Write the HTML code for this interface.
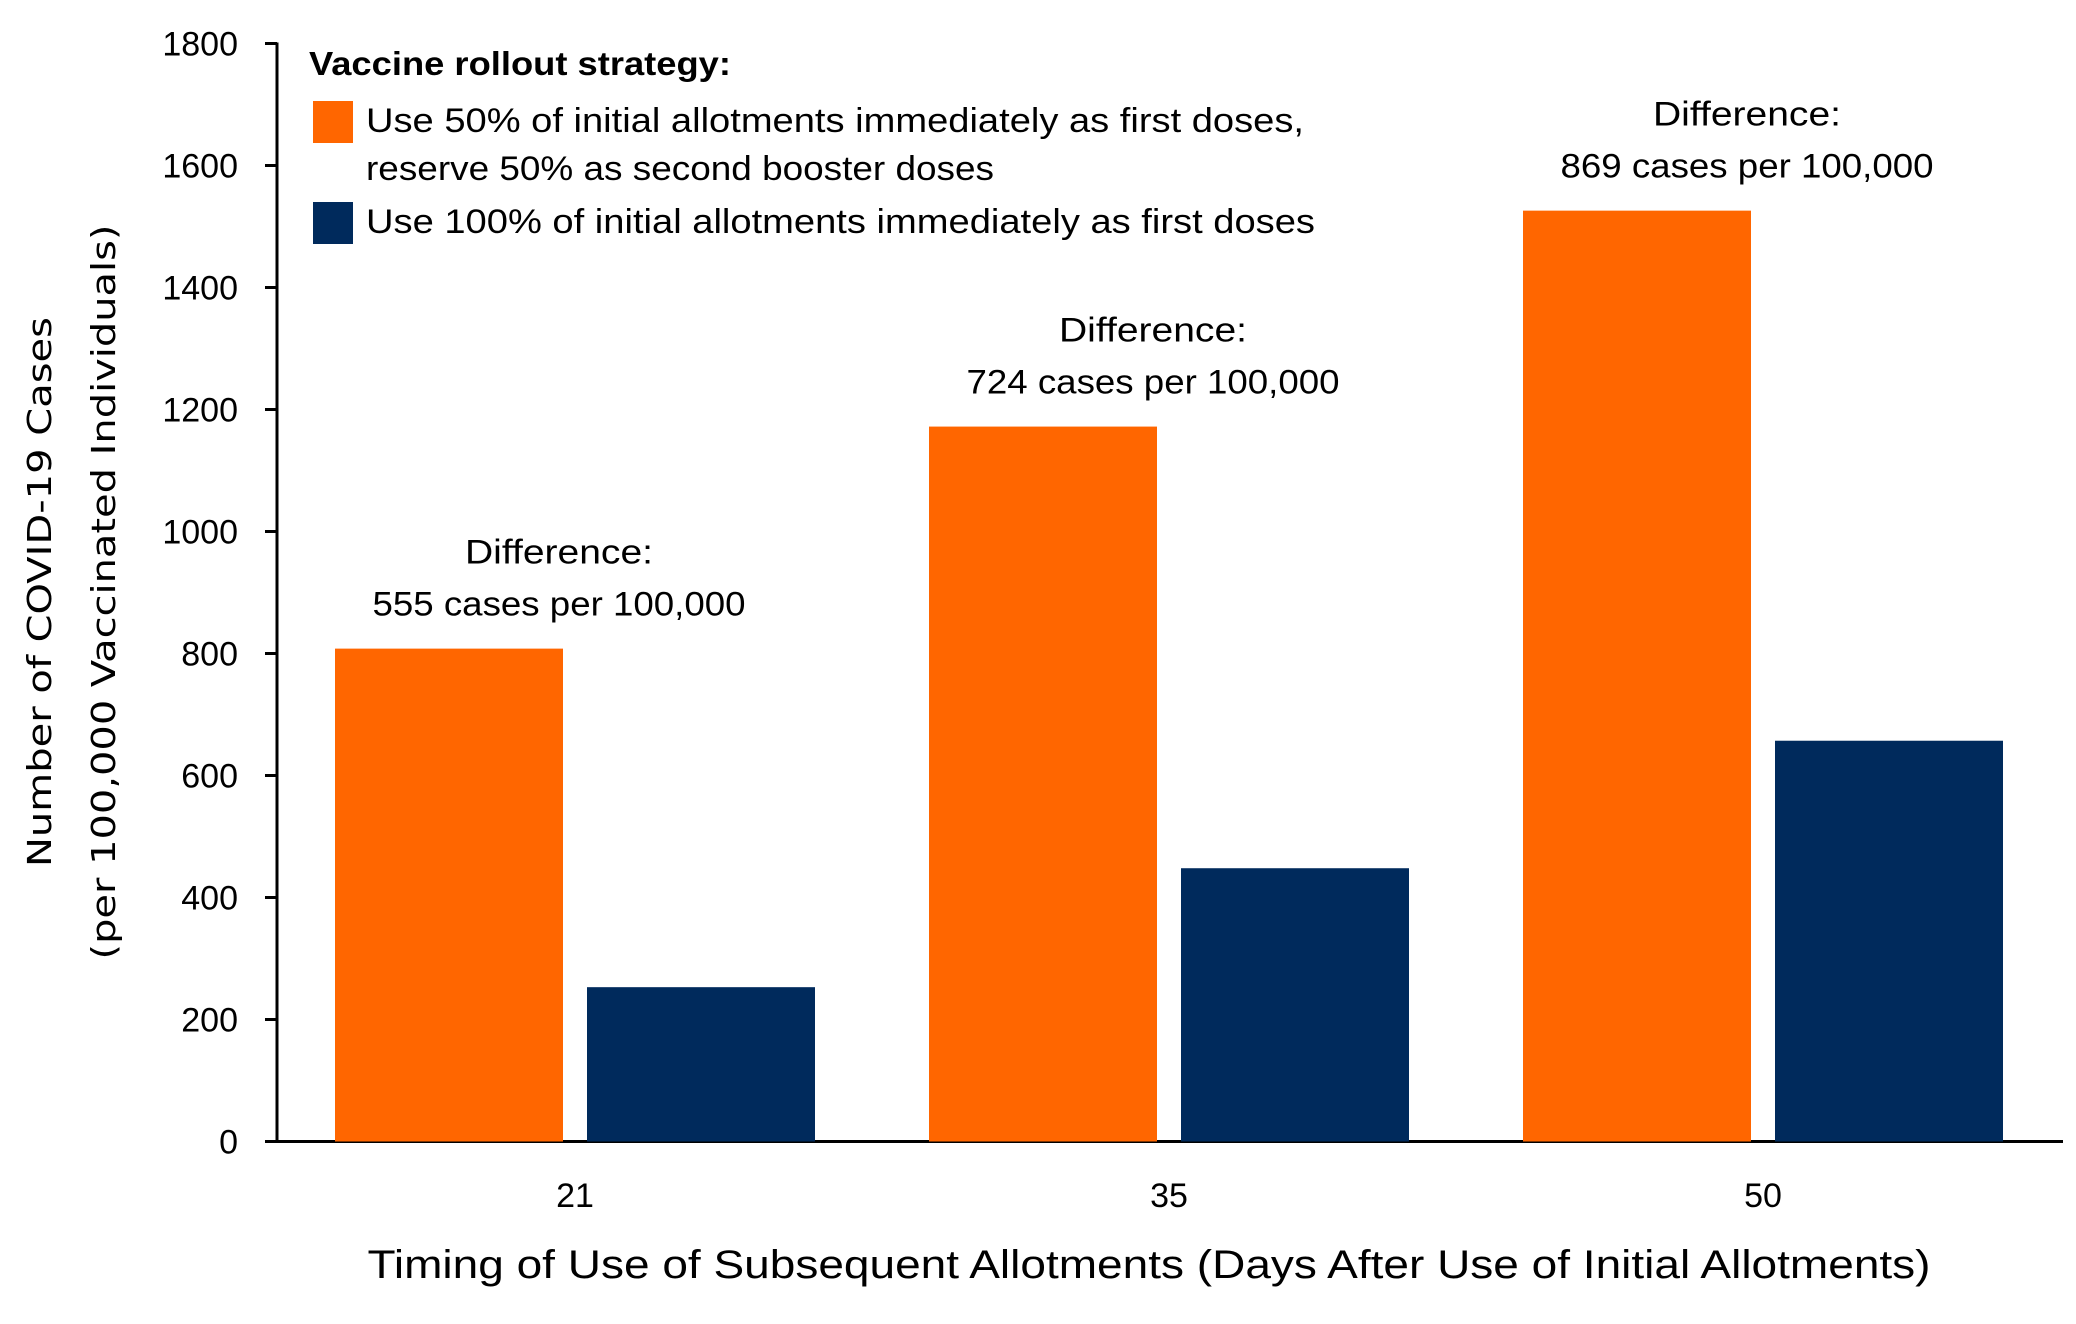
<!DOCTYPE html>
<html><head><meta charset="utf-8"><style>
html,body{margin:0;padding:0;background:#fff;}
svg{display:block;font-family:"Liberation Sans",sans-serif;}
</style></head><body>
<svg id="chart" width="2076" height="1324" viewBox="0 0 2076 1324" xmlns="http://www.w3.org/2000/svg">
<g id="axes"></g>
<g id="bars"></g>
<g id="annos"></g>
<g>
  <text x="309" y="75" font-size="33" font-weight="bold" textLength="422" lengthAdjust="spacingAndGlyphs">Vaccine rollout strategy:</text>
  <rect x="313" y="101" width="40" height="42" fill="#FF6600"/>
  <text x="366" y="132" font-size="34" textLength="938" lengthAdjust="spacingAndGlyphs">Use 50% of initial allotments immediately as first doses,</text>
  <text x="366" y="180" font-size="34" textLength="628" lengthAdjust="spacingAndGlyphs">reserve 50% as second booster doses</text>
  <rect x="313" y="202" width="40" height="42" fill="#002A5C"/>
  <text x="366" y="233" font-size="34" textLength="949" lengthAdjust="spacingAndGlyphs">Use 100% of initial allotments immediately as first doses</text>
</g>
<text transform="translate(51,592) rotate(-90)" text-anchor="middle" font-family="DejaVu Sans, sans-serif" font-size="33" textLength="550" lengthAdjust="spacingAndGlyphs">Number of COVID-19 Cases</text>
<text transform="translate(115,592) rotate(-90)" text-anchor="middle" font-family="DejaVu Sans, sans-serif" font-size="33" textLength="735" lengthAdjust="spacingAndGlyphs">(per 100,000 Vaccinated Individuals)</text>
<text x="1149" y="1278" text-anchor="middle" font-size="40" textLength="1563" lengthAdjust="spacingAndGlyphs">Timing of Use of Subsequent Allotments (Days After Use of Initial Allotments)</text>
</svg>
<script>
const categories = ["21", "35", "50"];
const half = [808, 1172, 1526];
const full = [253, 448, 657];
const diffs = ["555", "724", "869"];
const yTicks = [0, 200, 400, 600, 800, 1000, 1200, 1400, 1600, 1800];

const NS = "http://www.w3.org/2000/svg";
const y0 = 1141.5, yTop = 43.5, yMax = 1800;
const yScale = v => y0 - (v / yMax) * (y0 - yTop);
const groupX = i => 575 + i * 594;
const barW = 228, gap = 24;

function mk(tag, attrs, parent, txt) {
  const el = document.createElementNS(NS, tag);
  for (const k in attrs) el.setAttribute(k, attrs[k]);
  if (txt !== undefined) el.textContent = txt;
  parent.appendChild(el);
  return el;
}
const axes = document.getElementById("axes");
const bars = document.getElementById("bars");
const annos = document.getElementById("annos");

let el = mk("line", {x1: 277, y1: yTop - 1, x2: 277, y2: y0, stroke: "#000", "stroke-width": 3}, axes);


el = mk("line", {x1: 267, y1: y0, x2: 2063, y2: y0, stroke: "#000", "stroke-width": 3}, axes);



yTicks.forEach(t => {
  const y = yScale(t);
  const tk = mk("line", {x1: 265, y1: y, x2: 277, y2: y, stroke: "#000", "stroke-width": 3}, axes);
  
  
  const lb = mk("text", {x: 238, y: y + 12, "text-anchor": "end", "font-size": 34}, axes, String(t));
  
  
});

categories.forEach((c, i) => {
  const cx = groupX(i);
  const lb = mk("text", {x: cx, y: 1207, "text-anchor": "middle", "font-size": 34}, axes, c);
  
  

  const yh = yScale(half[i]);
  const b1 = mk("rect", {x: cx - gap / 2 - barW, y: yh, width: barW, height: y0 - yh, fill: "#FF6600"}, bars);
  
  

  const yf = yScale(full[i]);
  const b2 = mk("rect", {x: cx + gap / 2, y: yf, width: barW, height: y0 - yf, fill: "#002A5C"}, bars);
  
  

  const ax = cx - gap / 2 - barW / 2 + 110;
  const a1 = mk("text", {x: ax, y: yh - 85, "text-anchor": "middle", "font-size": 34, textLength: 188, lengthAdjust: "spacingAndGlyphs"}, annos, "Difference:");
  
  
  const a2 = mk("text", {x: ax, y: yh - 33, "text-anchor": "middle", "font-size": 34, textLength: 373, lengthAdjust: "spacingAndGlyphs"}, annos, diffs[i] + " cases per 100,000");
  
  
});
</script>
</body></html>
